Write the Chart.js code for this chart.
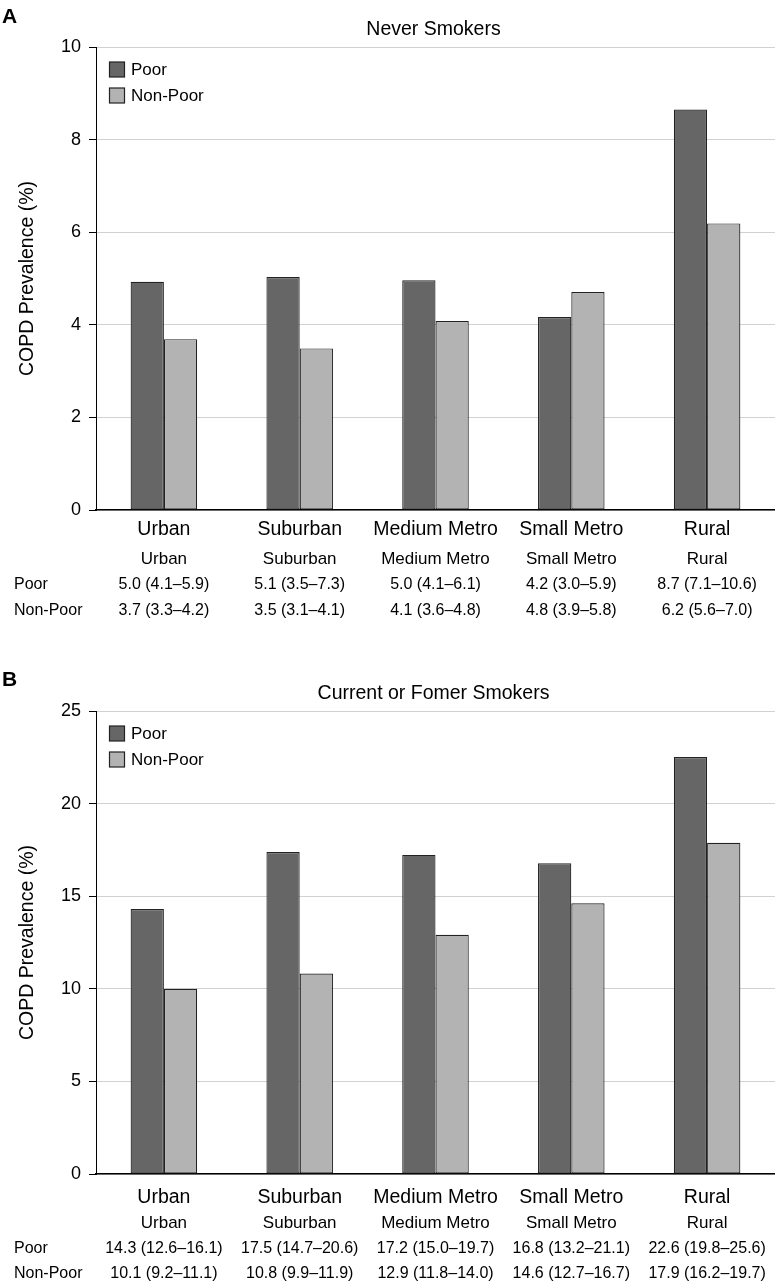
<!DOCTYPE html>
<html>
<head>
<meta charset="utf-8">
<script src="https://cdn.jsdelivr.net/npm/chart.js@4/dist/chart.umd.min.js"></script>
<style>
  html, body { margin: 0; padding: 0; background: #fff; }
  .panel { position: absolute; left: 0; width: 775px; }
  #pA { top: 0; height: 640px; }
  #pB { top: 640px; height: 645px; }
</style>
</head>
<body>
<div class="panel" id="pA"><canvas id="cA" width="775" height="640"></canvas></div>
<div class="panel" id="pB"><canvas id="cB" width="775" height="645"></canvas></div>
<script>
// ---- data ----
const categories = ['Urban', 'Suburban', 'Medium Metro', 'Small Metro', 'Rural'];
const seriesNames = ['Poor', 'Non-Poor'];

// Panel A: never smokers (bar heights)
const neverPoor    = [4.93, 5.03, 4.96, 4.17, 8.65];
const neverNonPoor = [3.69, 3.49, 4.08, 4.71, 6.19];
const neverPoorText    = ['5.0 (4.1–5.9)', '5.1 (3.5–7.3)', '5.0 (4.1–6.1)', '4.2 (3.0–5.9)', '8.7 (7.1–10.6)'];
const neverNonPoorText = ['3.7 (3.3–4.2)', '3.5 (3.1–4.1)', '4.1 (3.6–4.8)', '4.8 (3.9–5.8)', '6.2 (5.6–7.0)'];

// Panel B: current or former smokers
const everPoor    = [14.31, 17.39, 17.23, 16.78, 22.52];
const everNonPoor = [10.0, 10.83, 12.92, 14.62, 17.88];
const everPoorText    = ['14.3 (12.6–16.1)', '17.5 (14.7–20.6)', '17.2 (15.0–19.7)', '16.8 (13.2–21.1)', '22.6 (19.8–25.6)'];
const everNonPoorText = ['10.1 (9.2–11.1)', '10.8 (9.9–11.9)', '12.9 (11.8–14.0)', '14.6 (12.7–16.7)', '17.9 (16.2–19.7)'];

const yTitle = 'COPD Prevalence (%)';
const titleA = 'Never Smokers';
const titleB = 'Current or Fomer Smokers';

// ---- styling ----
const FONT = '"Liberation Sans", Arial, Helvetica, sans-serif';
const POOR_COLOR = '#666666';
const NONPOOR_COLOR = '#b3b3b3';
const EDGE = '#222222';

const panelPlugin = {
  id: 'panel',
  afterDraw(chart, args, o) {
    const ctx = chart.ctx;
    const ca = chart.chartArea;
    const xs = chart.scales.x;
    ctx.save();
    ctx.fillStyle = '#000';
    // panel letter
    ctx.font = 'bold 21px ' + FONT;
    ctx.textAlign = 'left';
    ctx.textBaseline = 'middle';
    ctx.fillText(o.letter, 2, o.letterY);
    // title
    ctx.font = '19.5px ' + FONT;
    ctx.textAlign = 'center';
    ctx.fillText(o.title, (ca.left + ca.right) / 2 - 2, o.titleY);
    // legend (inside plot, top-left)
    const colors = [POOR_COLOR, NONPOOR_COLOR];
    ctx.font = '17px ' + FONT;
    ctx.textAlign = 'left';
    for (let i = 0; i < seriesNames.length; i++) {
      const by = ca.top + 15 + i * 26;
      ctx.fillStyle = colors[i];
      ctx.fillRect(109.5, by, 15, 15);
      ctx.strokeStyle = EDGE;
      ctx.lineWidth = 1.2;
      ctx.strokeRect(109.5, by, 15, 15);
      ctx.fillStyle = '#000';
      ctx.fillText(seriesNames[i], 131, by + 8);
    }
    // table below the axis
    ctx.textBaseline = 'middle';
    ctx.font = '17px ' + FONT;
    ctx.textAlign = 'center';
    categories.forEach((c, i) => ctx.fillText(c, xs.getPixelForValue(i), o.rows[0]));
    ctx.font = '16px ' + FONT;
    const rowTexts = [o.poorText, o.nonPoorText];
    for (let r = 0; r < 2; r++) {
      ctx.textAlign = 'left';
      ctx.fillText(seriesNames[r], 14, o.rows[r + 1]);
      ctx.textAlign = 'center';
      rowTexts[r].forEach((t, i) => ctx.fillText(t, xs.getPixelForValue(i), o.rows[r + 1]));
    }
    ctx.restore();
  }
};

function makeChart(id, poor, nonPoor, yMax, yStep, cfg) {
  return new Chart(document.getElementById(id), {
    type: 'bar',
    data: {
      labels: categories,
      datasets: [
        { label: seriesNames[0], data: poor, backgroundColor: POOR_COLOR, borderColor: EDGE, borderWidth: 1.2, borderSkipped: false, barPercentage: 1.0, categoryPercentage: 0.49 },
        { label: seriesNames[1], data: nonPoor, backgroundColor: NONPOOR_COLOR, borderColor: EDGE, borderWidth: 1.2, borderSkipped: false, barPercentage: 1.0, categoryPercentage: 0.49 }
      ]
    },
    options: {
      responsive: false,
      animation: false,
      layout: { padding: { top: cfg.top, right: 0, bottom: 0, left: 0 } },
      plugins: {
        legend: { display: false },
        tooltip: { enabled: false },
        title: { display: false },
        panel: cfg.panel
      },
      scales: {
        x: {
          grid: { display: false, drawTicks: false },
          border: { display: true, color: '#000', width: 1.5 },
          ticks: { color: '#000', font: { family: FONT, size: 19.5 }, padding: cfg.xPad, maxRotation: 0, autoSkip: false },
          afterFit(s) { s.height = cfg.xHeight; }
        },
        y: {
          min: 0, max: yMax,
          grid: { color: '#d2d2d2', lineWidth: 1, tickColor: '#000', tickLength: 7, drawTicks: true },
          border: { display: true, color: '#000', width: 1 },
          ticks: { stepSize: yStep, color: '#000', font: { family: FONT, size: 18 }, padding: 8 },
          title: { display: true, text: yTitle, color: '#000', font: { family: FONT, size: 19.5 }, padding: { top: 16, bottom: 0 } },
          afterFit(s) { s.width = 96; }
        }
      }
    },
    plugins: [panelPlugin]
  });
}

makeChart('cA', neverPoor, neverNonPoor, 10, 2, {
  top: 47, xHeight: 130, xPad: 8,
  panel: { letter: 'A', letterY: 17, title: titleA, titleY: 30, rows: [559, 585, 611],
           poorText: neverPoorText, nonPoorText: neverNonPoorText }
});
makeChart('cB', everPoor, everNonPoor, 25, 5, {
  top: 71, xHeight: 111, xPad: 12,
  panel: { letter: 'B', letterY: 40, title: titleB, titleY: 54, rows: [583, 609, 634],
           poorText: everPoorText, nonPoorText: everNonPoorText }
});
</script>
</body>
</html>
